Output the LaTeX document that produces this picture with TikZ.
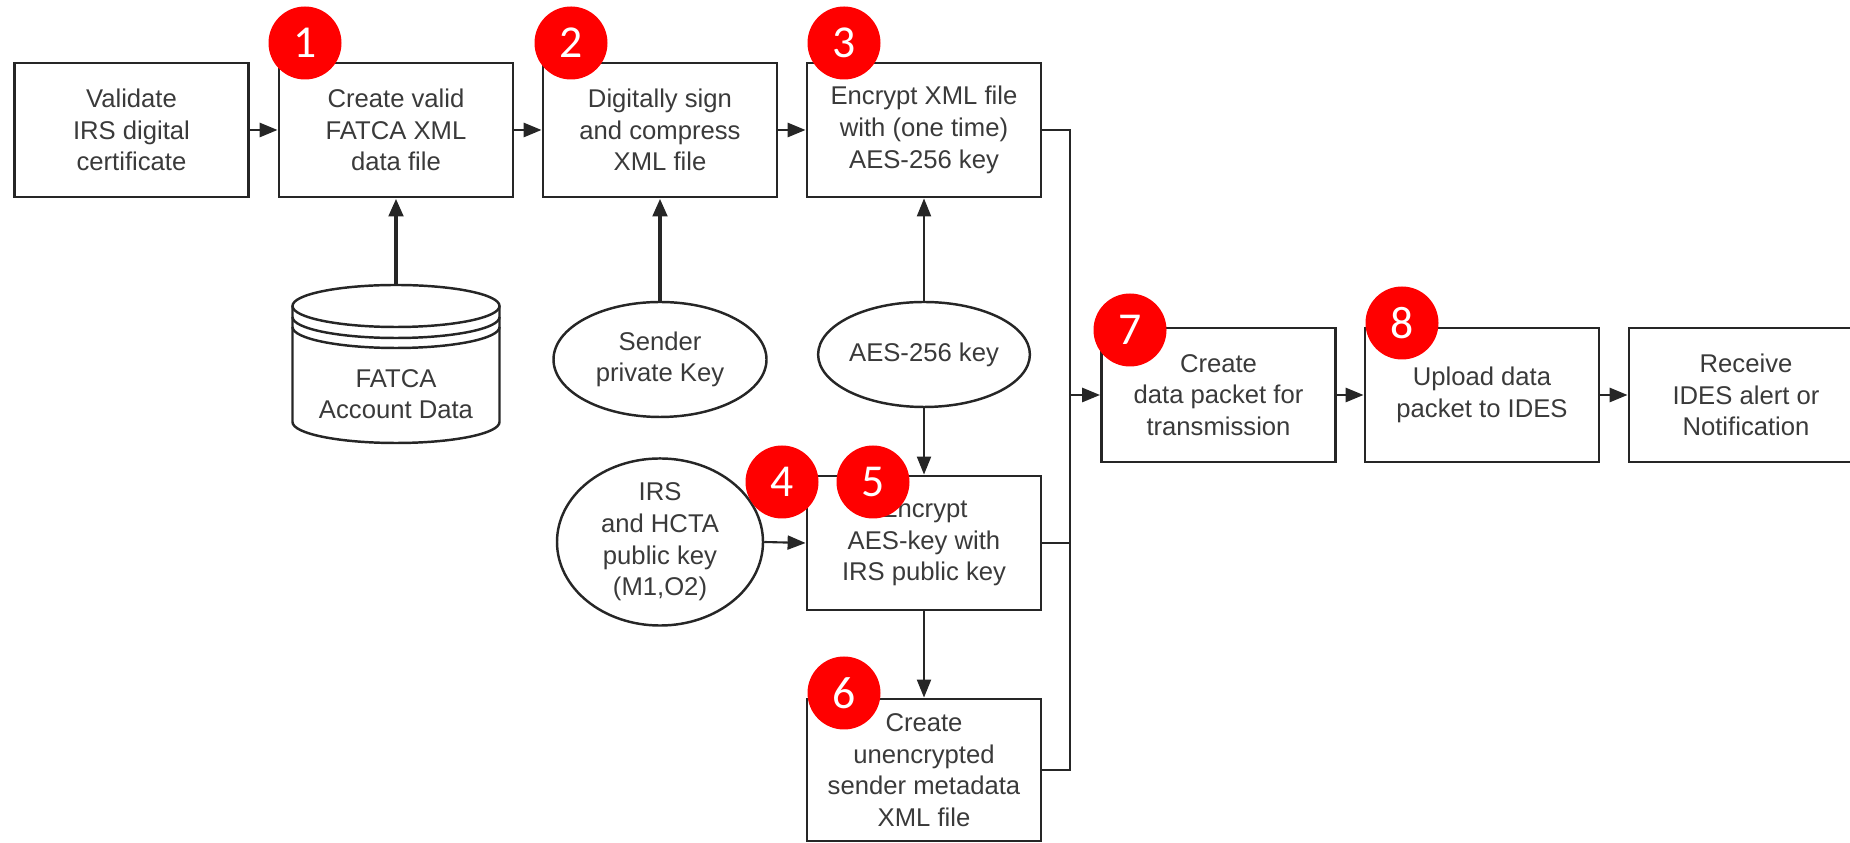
\documentclass[tikz,border=0pt]{standalone}
\usepackage{fontspec}
\setmainfont{Liberation Sans}
\newfontfamily\badgefont{Carlito}
\usetikzlibrary{arrows.meta,shapes.geometric}
\definecolor{inkgray}{HTML}{262626}
\definecolor{textgray}{HTML}{3A3A3A}
\definecolor{badgered}{HTML}{FF0000}

\begin{document}
\begin{tikzpicture}[
  font=\fontsize{7.3}{9}\selectfont,
  stepbox/.style={draw=inkgray, line width=0.8pt, minimum width=2.34cm, minimum height=1.34cm, inner sep=0pt, align=center, text=textgray},
  keynode/.style={draw=inkgray, line width=0.7pt, ellipse, inner sep=0pt, align=center, text=textgray},
  wire/.style={draw=inkgray, line width=0.8pt},
  arr/.style={wire, -{Triangle[length=1.8mm,width=1.4mm]}},
  thickarr/.style={arr, line width=1.3pt},
  badge/.style={circle, fill=badgered, minimum size=0.73cm, inner sep=0pt, text=white, font=\badgefont\fontsize{13}{13}\selectfont}
]
\useasboundingbox (0,0) rectangle (18.5,8.43);

% top row
\node[stepbox] (valid) at (1.315,7.13) {Validate\\IRS digital\\certificate};
\node[stepbox] (create) at (3.96,7.13) {Create valid\\FATCA XML\\data file};
\node[stepbox] (sign) at (6.60,7.13) {Digitally sign\\and compress\\XML file};
\node[stepbox] (encxml) at (9.24,7.13) {Encrypt XML file\\with (one time)\\AES-256 key};

% inputs
\coordinate (dbtop) at (3.96,5.58);
\draw[wire,line width=0.7pt] (2.925,5.37) -- (2.925,4.21) arc[start angle=180,end angle=360,x radius=1.035,y radius=0.21] -- (4.995,5.37);
\draw[wire,line width=0.7pt] (3.96,5.37) ellipse[x radius=1.035,y radius=0.21];
\draw[wire,line width=0.7pt] (2.925,5.26) arc[start angle=180,end angle=360,x radius=1.035,y radius=0.21];
\draw[wire,line width=0.7pt] (2.925,5.16) arc[start angle=180,end angle=360,x radius=1.035,y radius=0.21];
\node[align=center,text=textgray] (db) at (3.96,4.49) {FATCA\\Account Data};

\node[keynode, minimum width=2.13cm, minimum height=1.15cm] (sender) at (6.60,4.835) {Sender\\private Key};
\node[keynode, minimum width=1.76cm, minimum height=1.05cm] (aeskey) at (9.24,4.885) {AES-256 key};
\node[keynode, minimum width=2.06cm, minimum height=1.44cm] (irskey) at (6.60,3.01) {IRS\\and HCTA\\public key\\(M1,O2)};

% key handling
\node[stepbox] (enckey) at (9.24,3.00) {Encrypt\\AES-key with\\IRS public key};
\node[stepbox, minimum height=1.42cm] (meta) at (9.24,0.73) {Create\\unencrypted\\sender metadata\\XML file};

% transmission
\node[stepbox] (packet) at (12.185,4.48) {Create\\data packet for\\transmission};
\node[stepbox] (upload) at (14.82,4.48) {Upload data\\packet to IDES};
\node[stepbox] (receive) at (17.46,4.48) {Receive\\IDES alert or\\Notification};

\coordinate (bus) at (10.70,0);

\draw[arr] (valid) -- (create);
\draw[arr] (create) -- (sign);
\draw[arr] (sign) -- (encxml);
\draw[thickarr] (dbtop) -- (create.south);
\draw[thickarr] (sender.north) -- (sign.south);
\draw[arr,line width=0.6pt] (aeskey.north) -- (encxml.south);
\draw[arr,line width=0.6pt] (aeskey.south) -- (enckey.north);
\draw[arr,line width=0.6pt] (irskey.east) -- (enckey.west);
\draw[arr,line width=0.6pt] (enckey.south) -- (meta.north);

\draw[wire,line width=0.6pt] (encxml.east) -| (bus |- meta.east) -- (meta.east);
\draw[wire,line width=0.6pt] (enckey.east) -- (enckey.east -| bus);
\draw[arr] (packet.west -| bus) -- (packet.west);
\draw[arr] (packet) -- (upload);
\draw[arr] (upload) -- (receive);

% step numbers
\node[badge] (b1) at (3.05,8.00) {1};
\node[badge] (b2) at (5.71,8.00) {2};
\node[badge] (b3) at (8.44,8.00) {3};
\node[badge] (b4) at (7.82,3.61) {4};
\node[badge] (b5) at (8.73,3.61) {5};
\node[badge] (b6) at (8.44,1.50) {6};
\node[badge] (b7) at (11.30,5.13) {7};
\node[badge] (b8) at (14.02,5.20) {8};
\end{tikzpicture}
\end{document}
